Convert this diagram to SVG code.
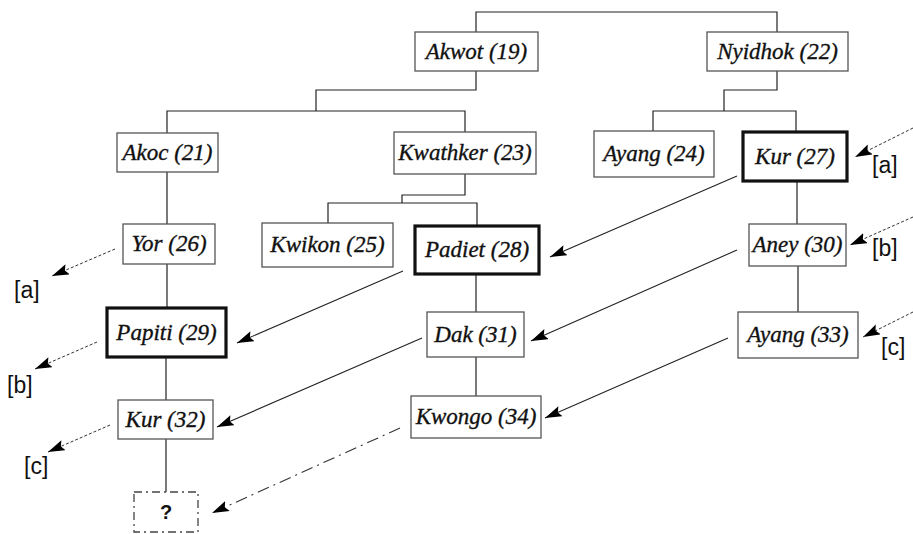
<svg xmlns="http://www.w3.org/2000/svg" width="913" height="534" viewBox="0 0 913 534">
<style>
.box{fill:#fff;stroke:#555;stroke-width:1.3}
.thick{fill:#fff;stroke:#111;stroke-width:3.2}
.q{fill:#fff;stroke:#444;stroke-width:1.3;stroke-dasharray:8 4 2 4}
.tree{fill:none;stroke:#222;stroke-width:1.2}
.arr{fill:none;stroke:#222;stroke-width:1.1;marker-end:url(#ah)}
.dot{fill:none;stroke:#333;stroke-width:1;stroke-dasharray:3 2;marker-end:url(#ah)}
.dd{fill:none;stroke:#333;stroke-width:1.1;stroke-dasharray:12 5 2 5;marker-end:url(#ah)}
</style>
<defs>
<marker id="ah" markerUnits="userSpaceOnUse" markerWidth="18" markerHeight="12" refX="17" refY="5.5" orient="auto">
<path d="M0,0 L17,5.5 L0,11 L3,5.5 z" fill="#000"/>
</marker>
</defs>
<rect width="913" height="534" fill="#fff"/>
<g id="connectors">
<path class="tree" d="M476,32 V12 H777 V32"/>
<path class="tree" d="M476,71 V90 H316 V111"/>
<path class="tree" d="M167,133 V111 H465 V132"/>
<path class="tree" d="M777,71 V90 H724 V111"/>
<path class="tree" d="M653,131 V111 H796 V132"/>
<path class="tree" d="M167,172 V224 M167,264 V308 M166,357 V400 M166,439 V492"/>
<path class="tree" d="M465,174 V195 H402 V203"/>
<path class="tree" d="M328,223 V203 H477 V226"/>
<path class="tree" d="M476,274 V312 M476,357 V396"/>
<path class="tree" d="M797,181 V224 M798,266 V312"/>
<path class="arr" d="M737,176 L550,257"/>
<path class="arr" d="M403,271 L237,343"/>
<path class="arr" d="M737,250 L531,341"/>
<path class="arr" d="M422,338 L217,427"/>
<path class="arr" d="M728,338 L545,418"/>
<path class="dd" d="M400,428 L212,513"/>
<path class="dot" d="M115,249 L52,276"/>
<path class="dot" d="M97,342 L35,369"/>
<path class="dot" d="M110,425 L48,452"/>
<path class="dot" d="M913,128 L855,157"/>
<path class="dot" d="M913,217 L850,245"/>
<path class="dot" d="M913,312 L863,337"/>
</g>
<g id="nodes" font-family="Liberation Serif, DejaVu Serif, serif" font-style="italic" font-size="23" fill="#111" stroke="#111" stroke-width="0.35" text-anchor="middle">
<g id="akwot"><rect class="box" x="415" y="32" width="123" height="39"/><text x="476.5" y="59">Akwot (19)</text></g>
<g id="nyidhok"><rect class="box" x="707" y="32" width="141" height="39"/><text x="777.5" y="59">Nyidhok (22)</text></g>
<g id="akoc"><rect class="box" x="117" y="133" width="101" height="39"/><text x="167.5" y="160">Akoc (21)</text></g>
<g id="kwathker"><rect class="box" x="394" y="132" width="142" height="42"/><text x="465" y="160">Kwathker (23)</text></g>
<g id="ayang24"><rect class="box" x="594" y="131" width="120" height="46"/><text x="654" y="161">Ayang (24)</text></g>
<g id="kur27"><rect class="thick" x="743" y="132" width="104" height="49"/><text x="795" y="164">Kur (27)</text></g>
<g id="yor"><rect class="box" x="123" y="224" width="92" height="40"/><text x="169" y="251">Yor (26)</text></g>
<g id="kwikon"><rect class="box" x="262" y="223" width="131" height="44"/><text x="327.5" y="252">Kwikon (25)</text></g>
<g id="padiet"><rect class="thick" x="415" y="226" width="124" height="48"/><text x="477" y="257">Padiet (28)</text></g>
<g id="aney"><rect class="box" x="749" y="224" width="97" height="42"/><text x="797.5" y="252">Aney (30)</text></g>
<g id="papiti"><rect class="thick" x="107" y="308" width="119" height="49"/><text x="166.5" y="340">Papiti (29)</text></g>
<g id="dak"><rect class="box" x="427" y="312" width="97" height="45"/><text x="475.5" y="342">Dak (31)</text></g>
<g id="ayang33"><rect class="box" x="738" y="312" width="120" height="46"/><text x="798" y="342">Ayang (33)</text></g>
<g id="kur32"><rect class="box" x="118" y="400" width="95" height="39"/><text x="165.5" y="427">Kur (32)</text></g>
<g id="kwongo"><rect class="box" x="411" y="396" width="130" height="42"/><text x="476" y="424">Kwongo (34)</text></g>
<g id="unknown"><rect class="q" x="134" y="492" width="64" height="40"/><text x="166" y="519" font-family="Liberation Sans, Arial, sans-serif" font-style="normal" font-size="20" font-weight="bold" stroke="none">?</text></g>
</g>
<g id="labels" font-family="Liberation Sans, Arial, sans-serif" font-size="23" fill="#111">
<text x="14" y="298">[a]</text>
<text x="7" y="393">[b]</text>
<text x="24" y="474">[c]</text>
<text x="872" y="173">[a]</text>
<text x="872" y="256">[b]</text>
<text x="881" y="355">[c]</text>
</g>
</svg>
